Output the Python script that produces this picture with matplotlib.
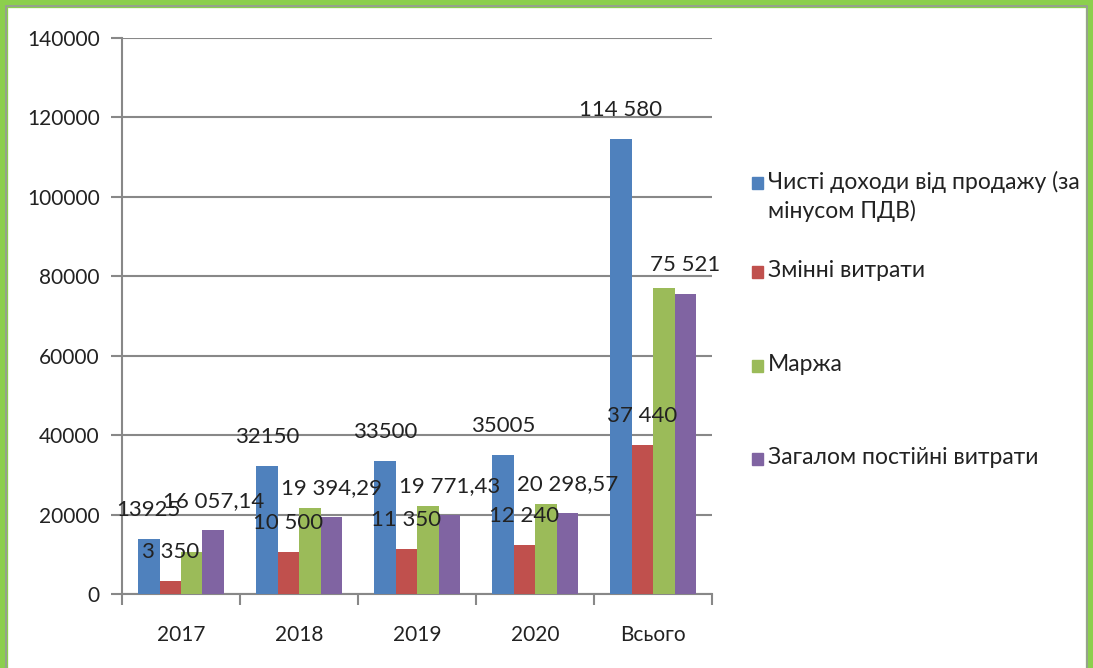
import numpy as np
import matplotlib.pyplot as plt
from matplotlib.patches import Rectangle

plt.rcParams['font.family'] = ['Lato', 'DejaVu Sans']

roky = ['2017', '2018', '2019', '2020', 'Всього']
serii = ['Чисті доходи від продажу (за\nмінусом ПДВ)', 'Змінні витрати',
         'Маржа', 'Загалом постійні витрати']
dokhody = [13925, 32150, 33500, 35005, 114580]
zminni = [3350, 10500, 11350, 12240, 37440]
marzha = [10575, 21650, 22150, 22765, 77140]
postiini = [16057.14, 19394.29, 19771.43, 20298.57, 75521.43]

pidpysy_dokhody = ['13925', '32150', '33500', '35005', '114 580']
pidpysy_zminni = ['3 350', '10 500', '11 350', '12 240', '37 440']
pidpysy_postiini = ['16 057,14', '19 394,29', '19 771,43', '20 298,57', '75 521']

kolory = ['#4F81BD', '#C0504D', '#9BBB59', '#8064A2']
dani = [dokhody, zminni, marzha, postiini]
pidpysy = [pidpysy_dokhody, pidpysy_zminni, None, pidpysy_postiini]

fig = plt.figure(figsize=(10.93, 6.68), dpi=100)
ax = fig.add_axes([0.1116, 0.1108, 0.54, 0.8323])

x = np.arange(len(roky))
w = 0.182
for i, (vals, c) in enumerate(zip(dani, kolory)):
    pos = x + (i - 1.5) * w
    ax.bar(pos, vals, width=w, color=c, zorder=3)
    if pidpysy[i] is not None:
        for px, v, t in zip(pos, vals, pidpysy[i]):
            ax.annotate(t, (px, v), xytext=(0, 21), textcoords='offset points',
                        ha='center', va='center', fontsize=16, color='#222222', zorder=5)

ax.set_xlim(-0.5, len(roky) - 0.5)
ax.set_ylim(0, 140000)
ax.set_yticks(np.arange(0, 140001, 20000))
ax.set_yticklabels([str(v) for v in range(0, 140001, 20000)], fontsize=15, color='#222222')
ax.set_xticks(x)
ax.set_xticklabels(roky, fontsize=15, color='#222222')
ax.set_xticks(np.arange(-0.5, len(roky)), minor=True)
ax.tick_params(axis='x', which='major', length=0, pad=22)
ax.tick_params(axis='x', which='minor', length=8, color='#888888', width=1.5)
ax.tick_params(axis='y', length=8, color='#888888', width=1.5, pad=8)
ax.grid(axis='y', color='#888888', linewidth=1.5, zorder=0)
for s in ['top', 'right']:
    ax.spines[s].set_visible(False)
for s in ['left', 'bottom']:
    ax.spines[s].set_color('#888888')
    ax.spines[s].set_linewidth(1.5)

# legenda
leg_y = [183, 272, 366, 459]
for lbl, c, yy in zip(serii, kolory, leg_y):
    fy = 1 - yy / 668
    fig.patches.append(Rectangle((752 / 1093, fy - 6 / 668), 11 / 1093, 12 / 668,
                                 transform=fig.transFigure, color=c))
    fig.text(768 / 1093, fy + 12 / 668, lbl, fontsize=16.5, va='top', ha='left',
             linespacing=1.35, color='#222222')

# ramka
fig.patches.append(Rectangle((0, -0.05), 1, 1.05, transform=fig.transFigure, fill=False,
                             edgecolor='#8CCF4D', linewidth=11))
fig.patches.append(Rectangle((6 / 1093, -0.05), 1 - 12 / 1093, 1.05 - 6 / 668,
                             transform=fig.transFigure, fill=False,
                             edgecolor='#999999', linewidth=1.2))

fig.savefig('out.png', dpi=100)
